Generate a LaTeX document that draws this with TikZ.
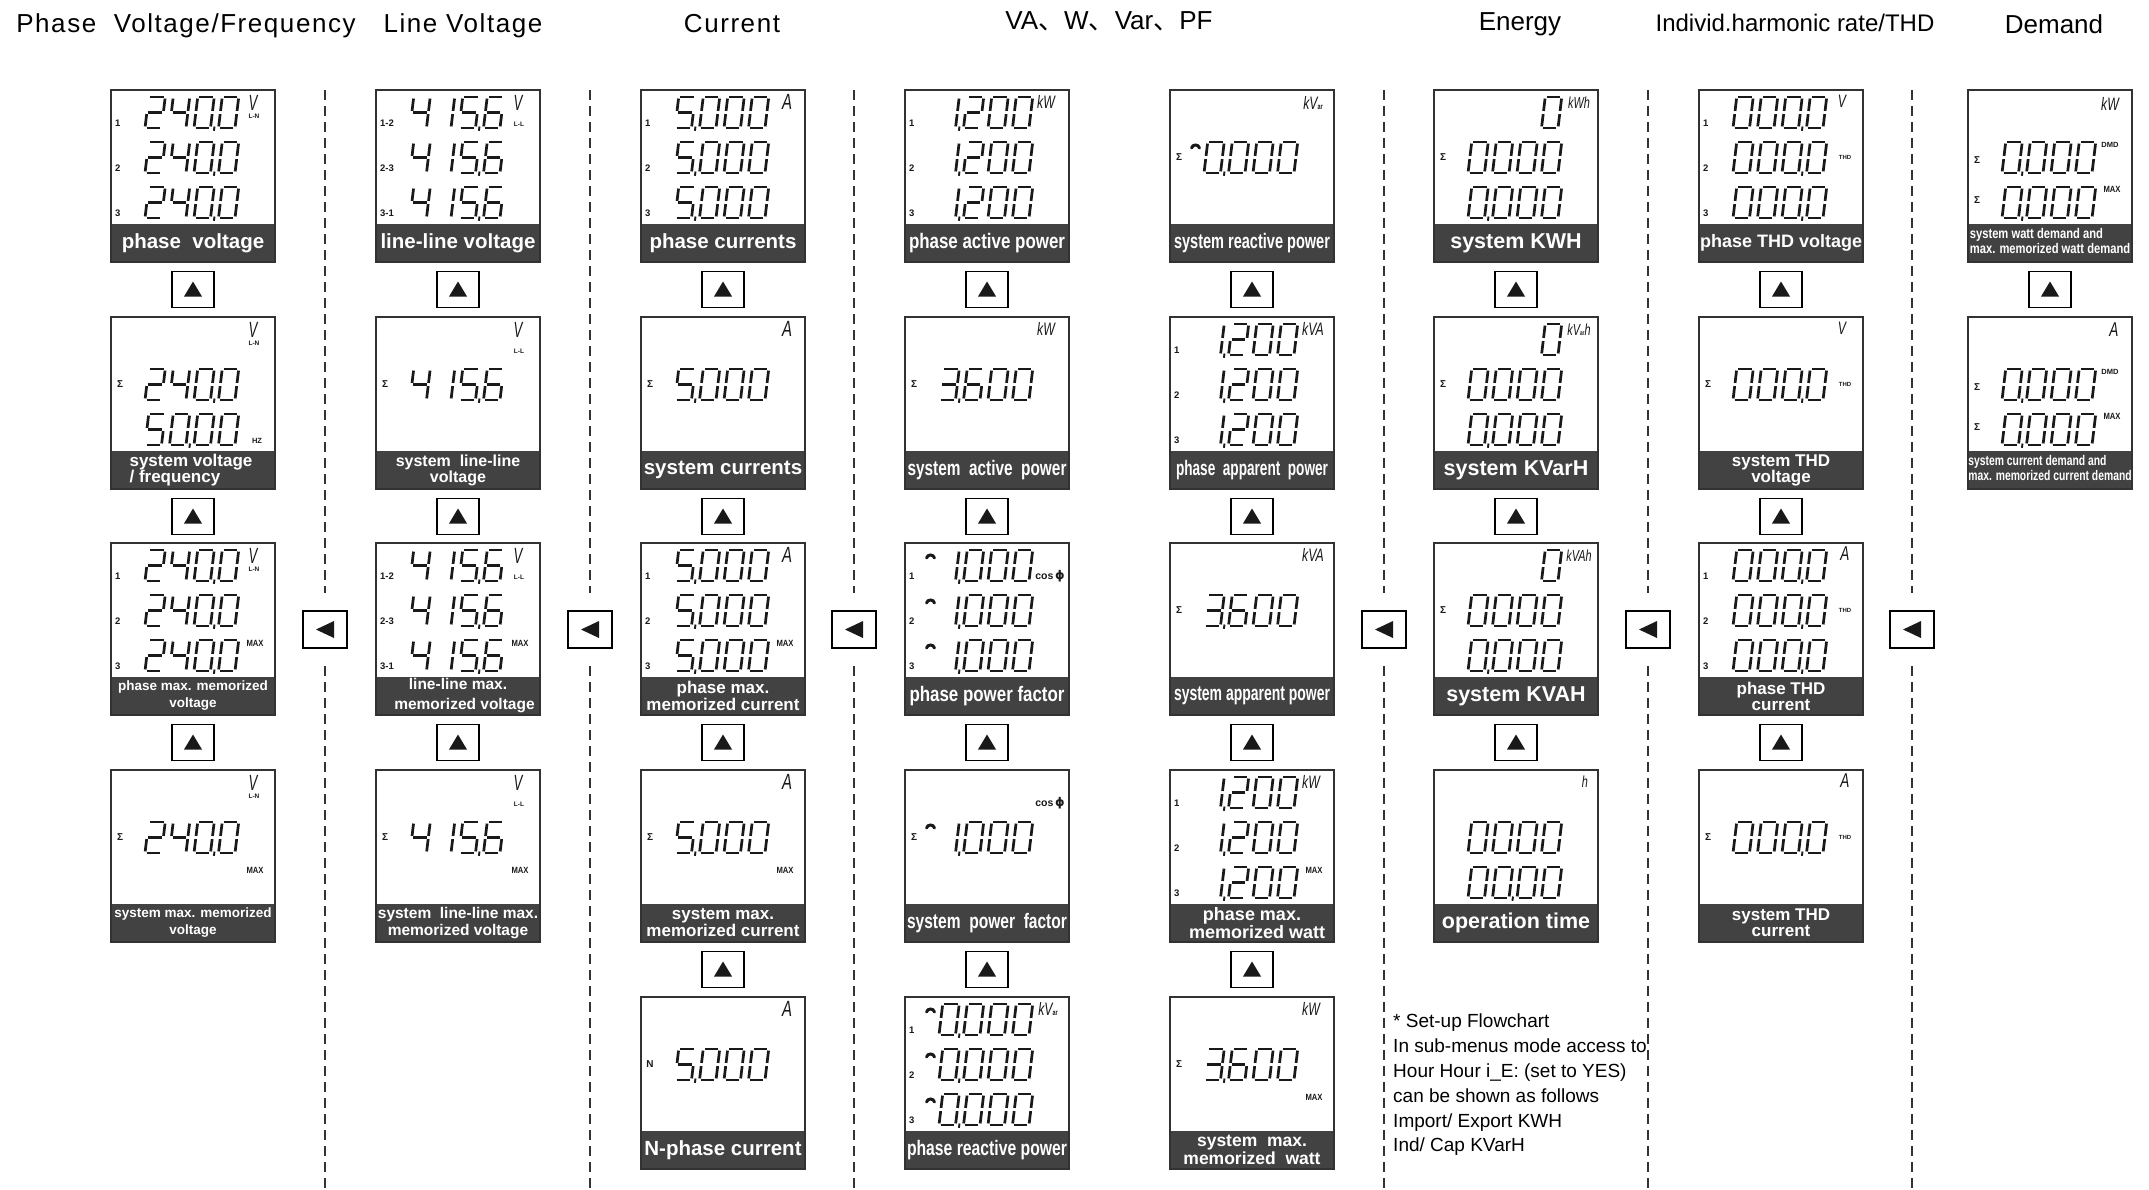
\documentclass[tikz,border=0pt]{standalone}
\usepackage{tikz}
\usepackage{graphicx}
\usepackage{fontspec}
\setmainfont{Liberation Sans}
\newfontfamily\cjk{Noto Sans CJK SC}
\newfontfamily\djv{DejaVu Sans}
\newfontfamily\spaced[LetterSpace=6]{Liberation Sans}
\newcommand\fs[1]{\fontsize{#1}{#1}\selectfont}
\newcommand\fsb[2]{\fontsize{#1}{#2}\selectfont}
\definecolor{bandc}{RGB}{66,66,66}
\definecolor{ink}{RGB}{25,25,25}
\definecolor{frame}{RGB}{50,50,50}
\tikzset{
  zseg/.style={line width=2.7pt, draw=ink, line cap=butt},
  zbox/.style={anchor=north west, minimum width=164pt, minimum height=172pt, inner sep=0pt, outer sep=0pt, fill=white},
  zframe/.style={draw=frame, line width=1.6pt},
  zbl/.style={text=white, inner sep=0pt, align=center},
  zrl/.style={anchor=west, inner sep=0pt, font=\fs{9.5}\bfseries, text=ink},
  zsg/.style={inner sep=0pt, font=\fs{10}\bfseries, text=ink},
  zun/.style={inner sep=0pt, text=ink},
  zsm/.style={inner sep=0pt, text=ink, font=\fs{6.5}\bfseries},
  zbtn/.style={draw=black, line width=1.3pt, fill=white, minimum width=42pt, minimum height=36pt, inner sep=0pt},
  zsep/.style={draw=black!80, line width=1.3pt, dash pattern=on 10pt off 6pt},
  zpf/.style={line width=3pt, draw=ink, line cap=round},
  ztitle/.style={anchor=base, inner sep=0pt, font=\fs{26}},
}
\makeatletter
\@namedef{lcd@s@a}{\draw[zseg] (1.6,-31) -- (14.9,-31);}
\@namedef{lcd@s@b}{\draw[zseg] (16.5,-29.4) -- (16.5,-17.1);}
\@namedef{lcd@s@c}{\draw[zseg] (16.5,-13.9) -- (16.5,-1.6);}
\@namedef{lcd@s@d}{\draw[zseg] (1.6,0) -- (14.9,0);}
\@namedef{lcd@s@e}{\draw[zseg] (0,-13.9) -- (0,-1.6);}
\@namedef{lcd@s@f}{\draw[zseg] (0,-29.4) -- (0,-17.1);}
\@namedef{lcd@s@g}{\draw[zseg] (1.6,-15.5) -- (14.9,-15.5);}
\def\lcd@segs#1{\ifx#1\relax\expandafter\@gobble\else\expandafter\@firstofone\fi{\csname lcd@s@#1\endcsname\lcd@segs}}
\def\lcd@adv{\pgfmathsetmacro\lcd@x{\lcd@x+24.5}}
\def\lcd@digit#1{\begin{scope}[shift={(\lcd@x,0)},xslant=0.12]\lcd@segs#1\relax\end{scope}\lcd@adv}
\def\lcd@comma{\draw[line width=1.9pt,draw=ink] (\lcd@x-4,-1.5) -- (\lcd@x-4.6,2.8);}
\@namedef{lcd@c@0}{\lcd@digit{abcdef}}
\@namedef{lcd@c@1}{\lcd@digit{bc}}
\@namedef{lcd@c@2}{\lcd@digit{abged}}
\@namedef{lcd@c@3}{\lcd@digit{abgcd}}
\@namedef{lcd@c@4}{\lcd@digit{fgbc}}
\@namedef{lcd@c@5}{\lcd@digit{afgcd}}
\@namedef{lcd@c@6}{\lcd@digit{afgedc}}
\@namedef{lcd@c@x}{\lcd@adv}
\@namedef{lcd@c@,}{\lcd@comma}
\def\lcd@parse#1{\ifx#1\relax\expandafter\@gobble\else\expandafter\@firstofone\fi{\csname lcd@c@#1\endcsname\lcd@parse}}
\newcommand\LCD[3]{\begin{scope}[shift={(#1,#2)}]\def\lcd@x{0}\lcd@parse#3\relax\end{scope}}
\makeatother
% panel helpers (local coordinates)
\newcommand\Three[1]{\LCD{34}{38}{#1}\LCD{34}{83}{#1}\LCD{34}{128}{#1}}
\newcommand\Nums[3]{\node[zrl] at (4,33) {#1};\node[zrl] at (4,78) {#2};\node[zrl] at (4,123) {#3};}
\newcommand\Sig[1]{\node[zsg] at (9,#1) {Σ};}
\newcommand\UV[2]{\node[zun] at (142,13) {\scalebox{0.6}[1]{\fs{22}\itshape V}};\node[zsm] at (143,#2) {#1};}
\newcommand\Unit[4]{\node[zun] at (#1,#2) {\scalebox{0.68}[1]{\fs{#3}\itshape #4}};}
\newcommand\Max[1][100]{\node[zun] at (144,#1) {\scalebox{0.85}[1]{\fs{9}\bfseries MAX}};}
\newcommand\Sml[3]{\node[zun] at (#1,#2) {\fs{7.5}\bfseries #3};}
\newcommand\Mk[1]{\draw[zpf] (21.5,#1+6) .. controls (22.5,#1+2) and (28.5,#1+2) .. (29.5,#1+6);}
\newcommand\Cos{\node[zun] at (145,33) {{\fs{10.5}\bfseries cos}\,{\djv\fs{12}\bfseries ϕ}};}
\newcommand\Pnl[4]{%
  \node[zbox] (#1) at (#2,#3) {};
  \fill[bandc] ([yshift=-134pt]#1.north west) rectangle (#1.south east);
  \draw[zframe] (#1.north west) rectangle (#1.south east);
  \begin{scope}[shift={(#1.north west)}]#4\end{scope}}
\newcommand\UpB[3]{\node[zbtn] (#1) at (#2,#3) {};\fill[ink, shift={(#1.center)}] (-9,7) -- (9,7) -- (0,-8) -- cycle;}
\newcommand\LfB[3]{\node[zbtn, minimum width=44pt, minimum height=37pt] (#1) at (#2,#3) {};\fill[ink, shift={(#1.center)}] (-9,0) -- (9,-8.5) -- (9,8.5) -- cycle;}
\newcommand\BL[2]{\node[zbl, font=\fs{#1}\bfseries] at (82,153) {#2};}
\newcommand\BLL[3]{\node[zbl, font=\fsb{#1}{#2}\bfseries] at (82,153) {#3};}
\newcommand\BLN[2]{\node[zbl, font=\fs{21}\bfseries] at (82,153) {\resizebox{#1pt}{\height}{#2}};}
\begin{document}
\begin{tikzpicture}[x=1pt,y=-1pt]
\fill[white] (0,0) rectangle (2149,1189);
\useasboundingbox (0,0) rectangle (2149,1189);
% titles
\node[ztitle, font=\fs{26}\spaced] (t1) at (186,32) {Phase\ \ Voltage/Frequency};
\node[ztitle, font=\fs{26}\spaced] (t2) at (463,32) {Line Voltage};
\node[ztitle, font=\fs{26}\spaced] (t3) at (732,32) {Current};
\node[ztitle] (t4) at (1109,29) {VA{\cjk 、}W{\cjk 、}Var{\cjk 、}PF};
\node[ztitle] (t5) at (1520,30) {Energy};
\node[ztitle, font=\fs{24}] (t6) at (1795,31) {Individ.harmonic rate/THD};
\node[ztitle] (t7) at (2054,33) {Demand};
% separators and left buttons
\foreach \sx/\nm in {325/l1, 590/l2, 854/l3, 1384/l4, 1648/l5, 1912/l6} {
  \draw[zsep] (\sx,90) -- (\sx,593);
  \draw[zsep] (\sx,666) -- (\sx,1189);
  \LfB{\nm}{\sx}{629.5}
}
% ---- column 1
\Pnl{p11}{111}{90}{\Three{240,0}\Nums{1}{2}{3}\UV{L-N}{26}\BL{20.5}{phase\ \ voltage}}
\Pnl{p12}{111}{317}{\LCD{34}{83}{240,0}\LCD{34}{128}{50,00}\Sig{67}\UV{L-N}{26}\Sml{146}{124}{HZ}
  \node[zbl, align=left, font=\fsb{17}{16}\bfseries] at (80,153) {system voltage\\/ frequency};}
\Pnl{p13}{111}{543}{\Three{240,0}\Nums{1}{2}{3}\UV{L-N}{26}\Max\BLL{13.5}{17}{phase max. memorized\\voltage}}
\Pnl{p14}{111}{770}{\LCD{34}{83}{240,0}\Sig{67}\UV{L-N}{26}\Max\BLL{13.5}{17}{system max. memorized\\voltage}}
% ---- column 2
\Pnl{p21}{376}{90}{\Three{415,6}\Nums{1-2}{2-3}{3-1}\UV{L-L}{34}\BL{20.5}{line-line voltage}}
\Pnl{p22}{376}{317}{\LCD{34}{83}{415,6}\Sig{67}\UV{L-L}{34}\BLL{16}{16}{system\ \ line-line\\voltage}}
\Pnl{p23}{376}{543}{\Three{415,6}\Nums{1-2}{2-3}{3-1}\UV{L-L}{34}\Max\BLL{15.5}{20}{line-line max.\\\ \ \ memorized voltage}}
\Pnl{p24}{376}{770}{\LCD{34}{83}{415,6}\Sig{67}\UV{L-L}{34}\Max\BLL{15.5}{17}{system\ \ line-line max.\\memorized voltage}}
% ---- column 3
\Pnl{p31}{641}{90}{\Three{5,000}\Nums{1}{2}{3}\Unit{146}{12}{22}{A}\BL{20.5}{phase currents}}
\Pnl{p32}{641}{317}{\LCD{34}{83}{5,000}\Sig{67}\Unit{146}{12}{22}{A}\BL{20.5}{system currents}}
\Pnl{p33}{641}{543}{\Three{5,000}\Nums{1}{2}{3}\Unit{146}{12}{22}{A}\Max\BLL{17}{17}{phase max.\\memorized current}}
\Pnl{p34}{641}{770}{\LCD{34}{83}{5,000}\Sig{67}\Unit{146}{12}{22}{A}\Max\BLL{17}{17}{system max.\\memorized current}}
\Pnl{p35}{641}{997}{\LCD{34}{83}{5,000}\node[zsg] at (9,67) {N};\Unit{146}{12}{22}{A}\BL{20.5}{N-phase current}}
% ---- column 4
\Pnl{p41}{905}{90}{\Three{1,200}\Nums{1}{2}{3}\Unit{141}{12}{18}{kW}\BLN{156}{phase active power}}
\Pnl{p42}{905}{317}{\LCD{34}{83}{3,600}\Sig{67}\Unit{141}{12}{18}{kW}\BLN{159}{system\ \ active\ \ power}}
\Pnl{p43}{905}{543}{\Three{1,000}\Mk{9}\Mk{54}\Mk{99}\Nums{1}{2}{3}\Cos\BLN{155}{phase power factor}}
\Pnl{p44}{905}{770}{\LCD{34}{83}{1,000}\Mk{52}\Sig{67}\Cos\BLN{160}{system\ \ power\ \ factor}}
\Pnl{p45}{905}{997}{\Three{0,000}\Mk{9}\Mk{54}\Mk{99}\Nums{1}{2}{3}\Unit{143}{12}{18}{kV{\fs{8}\upshape\bfseries ar}}\BLN{160}{phase reactive power}}
% ---- column 5
\Pnl{p51}{1170}{90}{\LCD{34}{83}{0,000}\Mk{52}\Sig{67}\Unit{143}{13}{18}{kV{\fs{8}\upshape\bfseries ar}}\BLN{156}{system reactive power}}
\Pnl{p52}{1170}{317}{\Three{1,200}\Nums{1}{2}{3}\Unit{143}{12}{18}{kVA}\BLN{152}{phase\ \ apparent\ \ power}}
\Pnl{p53}{1170}{543}{\LCD{34}{83}{3,600}\Sig{67}\Unit{143}{12}{18}{kVA}\BLN{156}{system apparent power}}
\Pnl{p54}{1170}{770}{\Three{1,200}\Nums{1}{2}{3}\Unit{141}{12}{18}{kW}\Max\BLL{18}{18}{phase max.\\\ \ memorized watt}}
\Pnl{p55}{1170}{997}{\LCD{34}{83}{3,600}\Sig{67}\Unit{141}{12}{18}{kW}\Max\BLL{17.5}{18}{system\ \ max.\\memorized\ \ watt}}
% ---- column 6
\Pnl{p61}{1434}{90}{\LCD{34}{38}{xxx0}\LCD{34}{83}{0000}\LCD{34}{128}{0,000}\Sig{67}\Unit{145}{13}{16}{kWh}\BL{21.5}{system KWH}}
\Pnl{p62}{1434}{317}{\LCD{34}{38}{xxx0}\LCD{34}{83}{0000}\LCD{34}{128}{0,000}\Sig{67}\Unit{145}{13}{16}{kV{\fs{7}\upshape\bfseries ar}h}\BL{21.5}{system KVarH}}
\Pnl{p63}{1434}{543}{\LCD{34}{38}{xxx0}\LCD{34}{83}{0000}\LCD{34}{128}{0,000}\Sig{67}\Unit{145}{13}{16}{kVAh}\BL{21.5}{system KVAH}}
\Pnl{p64}{1434}{770}{\LCD{34}{83}{0000}\LCD{34}{128}{00,00}\Unit{151}{12}{16}{h}\BL{21.5}{operation time}}
\node[anchor=north west, align=left, font=\fsb{19}{24.8}, inner sep=0pt] (note) at (1393,1014) {* Set-up Flowchart\\In sub-menus mode access to\\Hour Hour i\_E: (set to YES)\\can be shown as follows\\Import/ Export KWH\\Ind/ Cap KVarH};
% ---- column 7
\Pnl{p71}{1699}{90}{\Three{000,0}\Nums{1}{2}{3}\Unit{143}{11}{18}{V}\Sml{146}{67}{\fs{6}THD}\BL{18}{phase THD voltage}}
\Pnl{p72}{1699}{317}{\LCD{34}{83}{000,0}\Sig{67}\Unit{143}{11}{18}{V}\Sml{146}{67}{\fs{6}THD}\BLL{17}{16}{system THD\\voltage}}
\Pnl{p73}{1699}{543}{\Three{000,0}\Nums{1}{2}{3}\Unit{146}{11}{20}{A}\Sml{146}{67}{\fs{6}THD}\BLL{17}{16}{phase THD\\current}}
\Pnl{p74}{1699}{770}{\LCD{34}{83}{000,0}\Sig{67}\Unit{146}{11}{20}{A}\Sml{146}{67}{\fs{6}THD}\BLL{17}{16}{system THD\\current}}
% ---- column 8
\Pnl{p81}{1968}{90}{\LCD{34}{83}{0,000}\LCD{34}{128}{0,000}\Sig{70}\Sig{110}\Unit{142}{14}{18}{kW}\Sml{142}{55}{DMD}\Max[99]
  \node[zbl, font=\fsb{14}{14.5}\bfseries] at (82,153) {\scalebox{0.8}[1]{\begin{tabular}{@{}l@{}}system watt demand and\\max. memorized watt demand\end{tabular}}};}
\Pnl{p82}{1968}{317}{\LCD{34}{83}{0,000}\LCD{34}{128}{0,000}\Sig{70}\Sig{110}\Unit{146}{13}{20}{A}\Sml{142}{55}{DMD}\Max[99]
  \node[zbl, font=\fsb{14}{14.5}\bfseries] at (82,153) {\scalebox{0.74}[1]{\begin{tabular}{@{}l@{}}system current demand and\\max. memorized current demand\end{tabular}}};}
% ---- up buttons
\UpB{u11}{193}{289.5}\UpB{u12}{193}{516.5}\UpB{u13}{193}{742.5}
\UpB{u21}{458}{289.5}\UpB{u22}{458}{516.5}\UpB{u23}{458}{742.5}
\UpB{u31}{723}{289.5}\UpB{u32}{723}{516.5}\UpB{u33}{723}{742.5}\UpB{u34}{723}{969.5}
\UpB{u41}{987}{289.5}\UpB{u42}{987}{516.5}\UpB{u43}{987}{742.5}\UpB{u44}{987}{969.5}
\UpB{u51}{1252}{289.5}\UpB{u52}{1252}{516.5}\UpB{u53}{1252}{742.5}\UpB{u54}{1252}{969.5}
\UpB{u61}{1516}{289.5}\UpB{u62}{1516}{516.5}\UpB{u63}{1516}{742.5}
\UpB{u71}{1781}{289.5}\UpB{u72}{1781}{516.5}\UpB{u73}{1781}{742.5}
\UpB{u81}{2050}{289.5}
\end{tikzpicture}
\end{document}
